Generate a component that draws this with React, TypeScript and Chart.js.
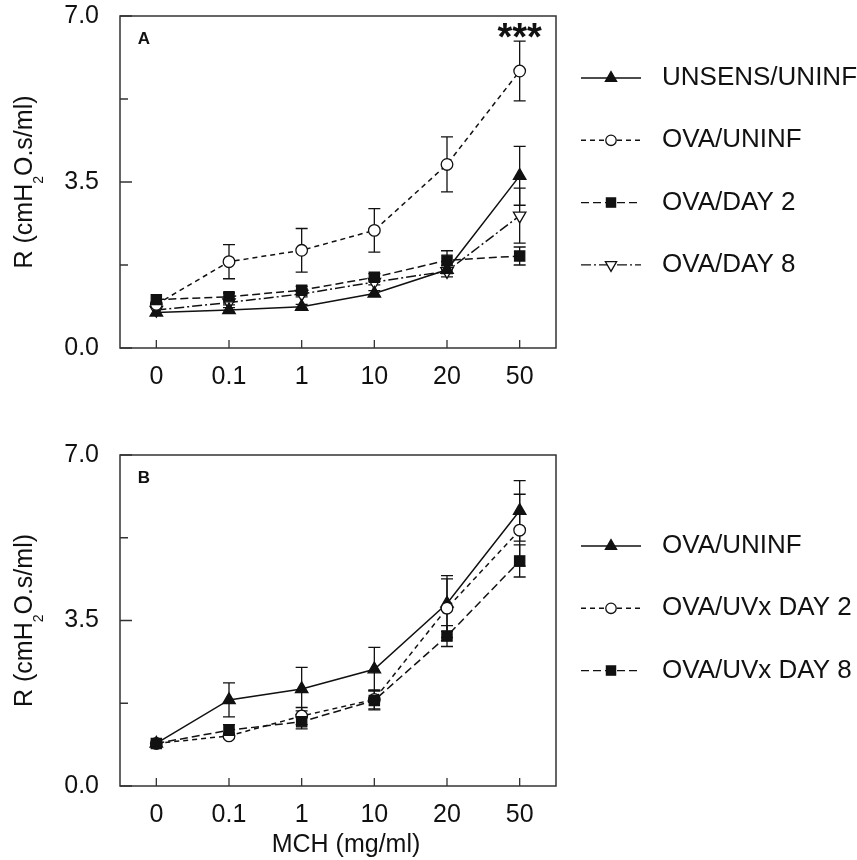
import React, { useEffect, useRef } from "react";
import { Chart, registerables } from "chart.js";
import { drawPoint } from "chart.js/helpers";

Chart.register(...registerables);

// ---------- data ----------
const doses = ["0", "0.1", "1", "10", "20", "50"];
const yTickLabels = ["0.0", "3.5", "7.0"];

// Panel A
const unsensUninf = [0.75, 0.8, 0.87, 1.15, 1.65, 3.63];
const unsensUninfErr = [0, 0.05, 0.05, 0.06, 0.08, 0.62];
const ovaUninfA = [0.92, 1.82, 2.06, 2.48, 3.87, 5.84];
const ovaUninfAErr = [0, 0.36, 0.46, 0.46, 0.58, 0.63];
const ovaDay2 = [1.02, 1.08, 1.22, 1.49, 1.85, 1.94];
const ovaDay2Err = [0, 0.08, 0.08, 0.08, 0.2, 0.19];
const ovaDay8 = [0.8, 0.96, 1.14, 1.39, 1.62, 2.79];
const ovaDay8Err = [0, 0.05, 0.06, 0.06, 0.12, 0.58];

// Panel B
const ovaUninfB = [0.9, 1.82, 2.05, 2.47, 3.86, 5.82];
const ovaUninfBErr = [0, 0.36, 0.46, 0.46, 0.59, 0.64];
const uvxDay2 = [0.9, 1.06, 1.48, 1.83, 3.76, 5.41];
const uvxDay2Err = [0, 0.06, 0.18, 0.2, 0.62, 0.76];
const uvxDay8 = [0.9, 1.18, 1.36, 1.81, 3.17, 4.76];
const uvxDay8Err = [0, 0.12, 0.15, 0.2, 0.22, 0.34];

const FONT = "'Liberation Sans', Arial, Helvetica, sans-serif";
const INK = "#111111";

type Marker = "up" | "down" | "circle" | "square";

function makeDataset(label: string, data: number[], errors: number[], marker: Marker, dash: number[]) {
  const filled = marker === "up" || marker === "square";
  const order = marker === "square" ? 0 : marker === "circle" ? 1 : marker === "up" ? 2 : 3;
  return {
    label,
    data,
    errors,
    order,
    borderColor: INK,
    borderWidth: 1.5,
    borderDash: dash,
    tension: 0,
    fill: false,
    pointStyle: marker === "circle" ? "circle" : marker === "square" ? "rect" : "triangle",
    pointRotation: marker === "down" ? 180 : 0,
    pointRadius: marker === "circle" ? 5.8 : marker === "square" ? 7.2 : 7.2,
    pointBackgroundColor: filled ? INK : "#ffffff",
    pointBorderColor: INK,
    pointBorderWidth: 1.3,
    pointHoverRadius: 0,
  };
}

type PanelOpts = {
  letter: string;
  stars: boolean;
  legendTop: number;
  xTitle: boolean;
};

function decorPlugin(p: PanelOpts) {
  return {
    id: "decor",
    beforeDatasetsDraw(chart: any) {
      const ctx = chart.ctx;
      const ys = chart.scales.y;
      ctx.save();
      ctx.strokeStyle = INK;
      ctx.lineWidth = 1.3;
      ctx.setLineDash([]);
      chart.data.datasets.forEach((ds: any, di: number) => {
        const meta = chart.getDatasetMeta(di);
        ds.data.forEach((v: number, i: number) => {
          const e = ds.errors[i];
          if (!e) return;
          const x = meta.data[i].x;
          const yTop = ys.getPixelForValue(v + e);
          const yBot = ys.getPixelForValue(v - e);
          ctx.beginPath();
          ctx.moveTo(x, yTop);
          ctx.lineTo(x, yBot);
          ctx.moveTo(x - 6, yTop);
          ctx.lineTo(x + 6, yTop);
          ctx.moveTo(x - 6, yBot);
          ctx.lineTo(x + 6, yBot);
          ctx.stroke();
        });
      });
      ctx.restore();
    },
    afterDraw(chart: any) {
      const ctx = chart.ctx;
      const a = chart.chartArea;
      const xs = chart.scales.x;
      const ys = chart.scales.y;
      ctx.save();
      ctx.setLineDash([]);
      // frame
      ctx.strokeStyle = "#333333";
      ctx.lineWidth = 1.5;
      ctx.strokeRect(a.left, a.top, a.right - a.left, a.bottom - a.top);
      // inward ticks
      ctx.lineWidth = 1.3;
      ctx.beginPath();
      ys.ticks.forEach((t: any) => {
        const y = ys.getPixelForValue(t.value);
        const len = t.label ? 12 : 8;
        ctx.moveTo(a.left, y);
        ctx.lineTo(a.left + len, y);
      });
      xs.ticks.forEach((_t: any, i: number) => {
        const x = xs.getPixelForValue(i);
        ctx.moveTo(x, a.bottom);
        ctx.lineTo(x, a.bottom - 8);
      });
      ctx.stroke();

      // panel letter
      ctx.fillStyle = INK;
      ctx.font = `bold 17px ${FONT}`;
      ctx.textAlign = "center";
      ctx.textBaseline = "middle";
      ctx.fillText(p.letter, a.left + 24, a.top + 23);

      // significance stars
      if (p.stars) {
        ctx.font = `bold 38px ${FONT}`;
        ctx.textBaseline = "alphabetic";
        ctx.fillText("***", xs.getPixelForValue(5), a.top + 34);
      }

      // y axis title with subscript
      const cy = (a.top + a.bottom) / 2;
      ctx.save();
      ctx.translate(25, cy);
      ctx.rotate(-Math.PI / 2);
      ctx.textAlign = "left";
      ctx.textBaseline = "middle";
      const big = `25px ${FONT}`;
      const small = `14px ${FONT}`;
      ctx.font = big;
      const p1 = "R (cmH";
      const p2 = "O.s/ml)";
      const w1 = ctx.measureText(p1).width;
      const w2 = ctx.measureText(p2).width;
      ctx.font = small;
      const ws = ctx.measureText("2").width;
      const total = w1 + ws + w2;
      let x = -total / 2;
      ctx.font = big;
      ctx.fillText(p1, x, 0);
      x += w1;
      ctx.font = small;
      ctx.fillText("2", x, 14);
      x += ws;
      ctx.font = big;
      ctx.fillText(p2, x, 0);
      ctx.restore();

      // x title
      if (p.xTitle) {
        ctx.font = `25px ${FONT}`;
        ctx.textAlign = "center";
        ctx.textBaseline = "middle";
        ctx.fillText("MCH (mg/ml)", (a.left + a.right) / 2 + 8, chart.height - 15);
      }

      // legend
      const x0 = 581;
      const x1 = 641;
      const tx = 662;
      chart.data.datasets.forEach((ds: any, i: number) => {
        const y = p.legendTop + i * 62.3;
        ctx.strokeStyle = INK;
        ctx.lineWidth = 1.4;
        ctx.setLineDash(ds.borderDash || []);
        ctx.beginPath();
        ctx.moveTo(x0, y);
        ctx.lineTo(x1, y);
        ctx.stroke();
        ctx.setLineDash([]);
        ctx.fillStyle = ds.pointBackgroundColor;
        ctx.strokeStyle = INK;
        ctx.lineWidth = ds.pointBorderWidth;
        drawPoint(
          ctx,
          {
            pointStyle: ds.pointStyle,
            rotation: ds.pointRotation,
            radius: ds.pointRadius * 0.9,
            borderWidth: ds.pointBorderWidth,
          } as any,
          (x0 + x1) / 2,
          y
        );
        ctx.fillStyle = INK;
        ctx.font = `26px ${FONT}`;
        ctx.textAlign = "left";
        ctx.textBaseline = "middle";
        ctx.fillText(ds.label, tx, y);
      });
      ctx.restore();
    },
  };
}

function buildConfig(datasets: any[], padTop: number, xHeight: number, p: PanelOpts): any {
  return {
    type: "line",
    data: { labels: doses, datasets },
    options: {
      responsive: false,
      animation: false,
      events: [],
      layout: { padding: { top: padTop, right: 301, left: 0, bottom: 0 } },
      plugins: { legend: { display: false }, tooltip: { enabled: false } },
      scales: {
        x: {
          type: "category",
          offset: true,
          grid: { display: false, drawTicks: false },
          border: { display: false },
          ticks: {
            font: { family: FONT, size: 25 },
            color: INK,
            padding: 14,
            maxRotation: 0,
            autoSkip: false,
          },
          afterFit: (s: any) => {
            s.height = xHeight;
            s.paddingLeft = 0;
            s.paddingRight = 0;
          },
        },
        y: {
          min: 0,
          max: 7,
          grid: { display: false, drawTicks: false },
          border: { display: false },
          ticks: {
            stepSize: 1.75,
            autoSkip: false,
            font: { family: FONT, size: 25 },
            color: INK,
            padding: 21,
            callback: (v: any) => {
              const s = Number(v).toFixed(1);
              return yTickLabels.includes(s) ? s : "";
            },
          },
          afterFit: (s: any) => {
            s.width = 120;
            s.paddingTop = 0;
            s.paddingBottom = 0;
          },
        },
      },
    },
    plugins: [decorPlugin(p)],
  };
}

export default function App() {
  const refA = useRef<HTMLCanvasElement | null>(null);
  const refB = useRef<HTMLCanvasElement | null>(null);

  useEffect(() => {
    const dsA = [
      makeDataset("UNSENS/UNINF", unsensUninf, unsensUninfErr, "up", []),
      makeDataset("OVA/UNINF", ovaUninfA, ovaUninfAErr, "circle", [5, 4]),
      makeDataset("OVA/DAY 2", ovaDay2, ovaDay2Err, "square", [8, 4]),
      makeDataset("OVA/DAY 8", ovaDay8, ovaDay8Err, "down", [10, 3, 2, 3]),
    ];
    const dsB = [
      makeDataset("OVA/UNINF", ovaUninfB, ovaUninfBErr, "up", []),
      makeDataset("OVA/UVx DAY 2", uvxDay2, uvxDay2Err, "circle", [5, 4]),
      makeDataset("OVA/UVx DAY 8", uvxDay8, uvxDay8Err, "square", [8, 4]),
    ];
    const chartA = new Chart(
      refA.current as HTMLCanvasElement,
      buildConfig(dsA, 16, 52, { letter: "A", stars: true, legendTop: 78, xTitle: false })
    );
    const chartB = new Chart(
      refB.current as HTMLCanvasElement,
      buildConfig(dsB, 55, 74, { letter: "B", stars: false, legendTop: 146, xTitle: true })
    );
    return () => {
      chartA.destroy();
      chartB.destroy();
    };
  }, []);

  return (
    <div
      style={{
        position: "fixed",
        left: 0,
        top: 0,
        width: 857,
        height: 860,
        background: "#ffffff",
      }}
    >
      <canvas
        ref={refA}
        width={857}
        height={400}
        style={{ position: "absolute", left: 0, top: 0, width: 857, height: 400 }}
      />
      <canvas
        ref={refB}
        width={857}
        height={460}
        style={{ position: "absolute", left: 0, top: 400, width: 857, height: 460 }}
      />
    </div>
  );
}
